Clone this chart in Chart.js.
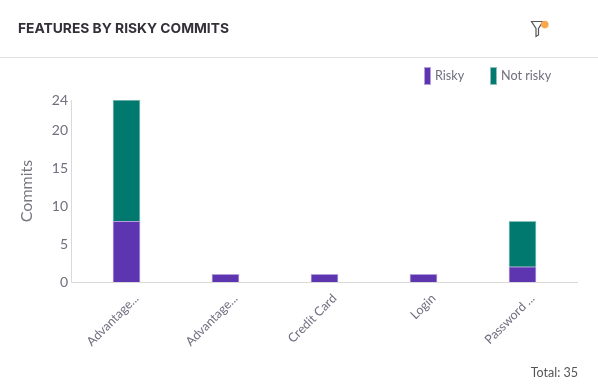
<!DOCTYPE html>
<html>
<head>
<meta charset="utf-8">
<script src="https://cdn.jsdelivr.net/npm/chart.js@4"></script>
<style>
  html, body { margin: 0; padding: 0; background: #fff; }
  #card { position: relative; width: 598px; height: 392px; overflow: hidden; font-family: Lato, sans-serif; }
  #title { position: absolute; left: 18px; top: 20px; font: 700 13.8px Inter, sans-serif; color: #333038; letter-spacing: 0; }
  #rule { position: absolute; left: 0; right: 0; top: 57px; border-top: 1px solid #e0e0e0; }
  #filter { position: absolute; left: 530px; top: 20px; }
  #legend { position: absolute; top: 67px; left: 424px; font-size: 12.6px; color: #6f6f80; }
  #legend span.item { position: absolute; top: 0; white-space: nowrap; line-height: 17px; }
  #legend i { position: absolute; left: 0; top: 0; width: 5px; height: 16px; border: 1px solid; }
  #total { position: absolute; right: 20px; top: 365px; font-size: 12.5px; color: #555; }
  canvas { position: absolute; left: 0; top: 0; }
</style>
</head>
<body>
<div id="card">
  <canvas id="chart" width="598" height="392"></canvas>
  <div id="title">FEATURES BY RISKY COMMITS</div>
  <div id="rule"></div>
  <svg id="filter" width="20" height="18" viewBox="0 0 20 18">
    <path d="M1.5 1.5 H13 L8.5 8.5 V15 L6 16.5 V8.5 Z" fill="none" stroke="#555" stroke-width="1.2"/>
    <circle cx="14.8" cy="4.6" r="3.8" fill="#f9a94b"/>
  </svg>
  <div id="legend"></div>
  <div id="total"></div>
</div>
<script>
const categories = ['Advantage...', 'Advantage...', 'Credit Card', 'Login', 'Password ...'];
const risky = [8, 1, 1, 1, 2];
const notRisky = [16, 0, 0, 0, 6];
const yTicks = [0, 5, 10, 15, 20, 24];
const totalLabel = 'Total: 35';

const seriesStyle = [
  { label: 'Risky', fill: '#5e35b1', edge: '#b3a0dc', left: 0 },
  { label: 'Not risky', fill: '#01796f', edge: '#8cc0ba', left: 66 },
];

// legend + total are plain html, the chart only does the plot
document.getElementById('legend').innerHTML = seriesStyle.map(s =>
  `<span class="item" style="left:${s.left}px;padding-left:11px"><i style="background:${s.fill};border-color:${s.edge}"></i>${s.label}</span>`
).join('');
document.getElementById('total').textContent = totalLabel;

// axis lines stick out a little past the first and last category
const axisLines = {
  id: 'axisLines',
  afterDraw(chart) {
    const { ctx, scales } = chart;
    const x0 = scales.x.left - 5.5;
    const x1 = scales.x.right + 6;
    const yb = Math.round(scales.y.bottom) + 0.5;
    ctx.save();
    ctx.strokeStyle = '#d9d9d9';
    ctx.lineWidth = 1;
    ctx.beginPath();
    ctx.moveTo(x0, scales.y.top);
    ctx.lineTo(x0, yb);
    ctx.lineTo(x1, yb);
    ctx.stroke();
    ctx.restore();
  },
};

new Chart(document.getElementById('chart'), {
  type: 'bar',
  plugins: [axisLines],
  data: {
    labels: categories,
    datasets: [
      { label: seriesStyle[0].label, data: risky, backgroundColor: seriesStyle[0].fill, borderColor: seriesStyle[0].edge, borderWidth: 1, barThickness: 27 },
      { label: seriesStyle[1].label, data: notRisky, backgroundColor: seriesStyle[1].fill, borderColor: seriesStyle[1].edge, borderWidth: 1, barThickness: 27 },
    ],
  },
  options: {
    animation: false,
    responsive: false,
    layout: { padding: { top: 100, right: 26, left: 0, bottom: 0 } },
    plugins: { legend: { display: false }, tooltip: { enabled: false } },
    scales: {
      x: {
        stacked: true,
        grid: { display: false },
        border: { display: false },
        afterFit(scale) { scale.height = 110; },
        ticks: {
          autoSkip: false,
          minRotation: 45,
          maxRotation: 45,
          padding: 1,
          labelOffset: 10,
          color: '#6f6f80',
          font: { family: 'Lato', size: 12.5 },
        },
      },
      y: {
        stacked: true,
        min: 0,
        max: 24,
        grid: { display: false, drawTicks: false },
        border: { display: false },
        afterFit(scale) { scale.width = 77; },
        afterBuildTicks(scale) { scale.ticks = yTicks.map(v => ({ value: v })); },
        title: { display: true, text: 'Commits', color: '#77777f', padding: { top: 17, bottom: 0 }, font: { family: 'Lato', size: 16 } },
        ticks: {
          padding: 9,
          color: '#6f6f80',
          font: { family: 'Lato', size: 14 },
        },
      },
    },
  },
});
</script>
</body>
</html>
